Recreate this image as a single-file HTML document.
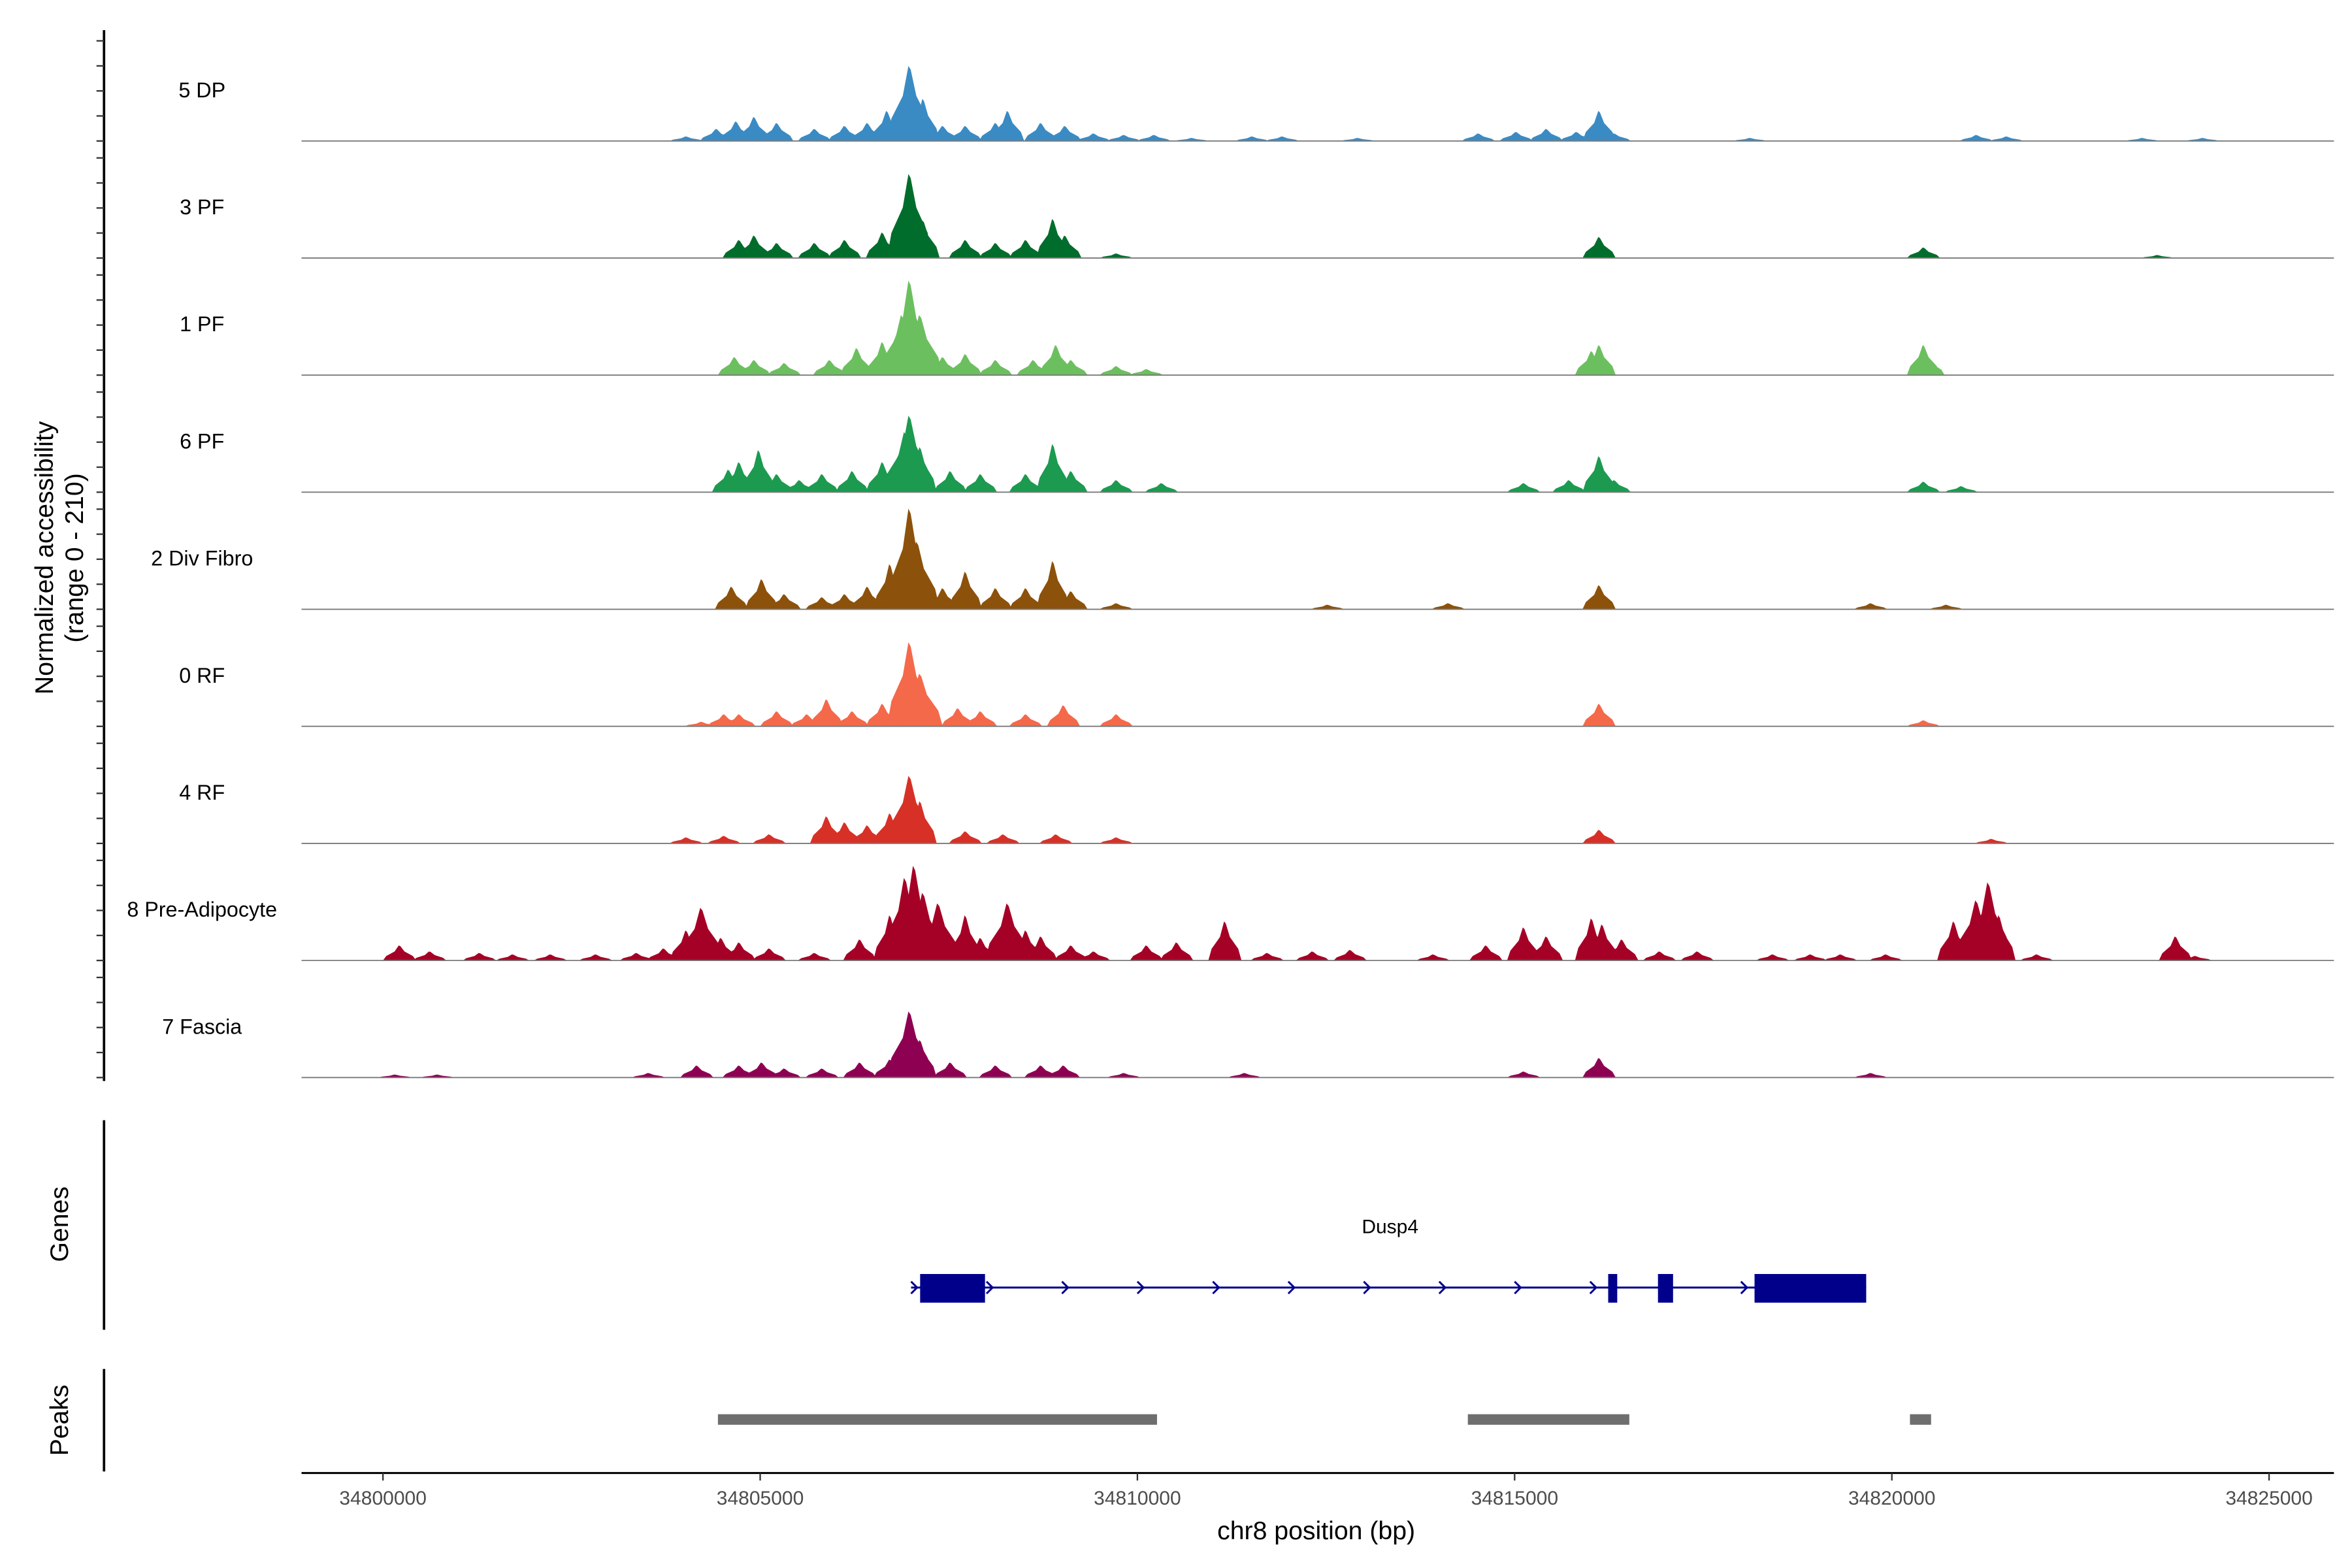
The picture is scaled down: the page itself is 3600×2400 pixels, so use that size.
<!DOCTYPE html>
<html><head><meta charset="utf-8"><style>
html,body{margin:0;padding:0;background:#fff}
svg{display:block}
text{font-family:"Liberation Sans",Arial,sans-serif}
</style></head><body>
<svg id="chart" width="3600" height="2400" viewBox="0 0 1560 1040" xmlns="http://www.w3.org/2000/svg">
<g id="tracks"></g>
<g>
<line x1="69" y1="20" x2="69" y2="717" stroke="#000" stroke-width="1.6"/>
<g id="yticks"></g>
<text transform="translate(35,370) rotate(-90)" text-anchor="middle" font-size="17">Normalized accessibility</text>
<text transform="translate(55,370) rotate(-90)" text-anchor="middle" font-size="17">(range 0 - 210)</text>
</g>
<g>
<line x1="69" y1="743" x2="69" y2="882" stroke="#000" stroke-width="1.6"/>
<text transform="translate(45,812) rotate(-90)" text-anchor="middle" font-size="17">Genes</text>
<text x="922" y="818" text-anchor="middle" font-size="13">Dusp4</text>
<g id="gene"></g>
</g>
<g>
<line x1="69" y1="908" x2="69" y2="976" stroke="#000" stroke-width="1.6"/>
<text transform="translate(45,942) rotate(-90)" text-anchor="middle" font-size="17">Peaks</text>
<g id="peaks"></g>
</g>
<g>
<line x1="200" y1="977" x2="1548" y2="977" stroke="#000" stroke-width="1.3"/>
<g id="xticks"></g>
<text x="873" y="1021" text-anchor="middle" font-size="17">chr8 position (bp)</text>
</g>
</svg>
<script>
const NS="http://www.w3.org/2000/svg";
const trackNames=["5 DP","3 PF","1 PF","6 PF","2 Div Fibro","0 RF","4 RF","8 Pre-Adipocyte","7 Fascia"];
const trackColors=["#3a8bc4","#006d2c","#6cbf5f","#1c9a50","#8c510a","#f4694a","#d73027","#a50026","#8e0152"];
// peak positions: kb offset from 34800000 ; heights: normalized accessibility
const pos0=[4.02,4.42,4.68,4.92,5.22,5.72,6.12,6.42,6.68,6.98,7.16,7.42,7.72,8.12,8.28,8.72,9.04,9.42,9.82,10.22,10.72,11.52,11.92,12.92,14.52,15.02,15.42,15.82,16.12,16.32,18.12,21.12,21.52,23.32,24.12];
const val0=[9,24,39,48,36,24,30,36,60,150,84,30,30,36,60,36,30,15,12,12,6,9,9,6,15,18,24,18,60,15,6,12,9,6,6];
const pos1=[4.72,4.92,5.22,5.72,6.12,6.62,6.98,7.16,7.72,8.12,8.52,8.88,9.04,9.72,16.12,20.42,23.52];
const val1=[36,45,30,30,36,51,168,75,36,30,36,78,45,9,42,21,6];
const pos2=[4.66,4.92,5.32,5.92,6.28,6.62,6.88,6.98,7.12,7.42,7.72,8.12,8.62,8.92,9.12,9.72,10.12,16.02,16.12,20.42,20.48];
const val2=[36,30,24,30,54,66,120,189,120,36,42,30,30,60,30,18,12,48,60,60,36];
const pos3=[4.58,4.72,4.98,5.22,5.52,5.82,6.22,6.62,6.92,6.98,7.12,7.52,7.92,8.52,8.88,9.12,9.72,10.32,15.12,15.72,16.12,16.32,20.42,20.92];
const val3=[45,60,84,36,24,36,42,60,120,153,90,42,36,36,96,42,24,18,18,24,72,24,21,12];
const pos4=[4.62,5.02,5.32,5.82,6.12,6.42,6.72,6.98,7.08,7.42,7.72,8.12,8.52,8.88,9.12,9.72,16.12,12.52,14.12,19.72,20.72];
const val4=[45,60,30,24,30,45,90,201,135,42,75,42,42,96,36,12,48,9,12,12,9];
const pos5=[4.22,4.52,4.72,5.22,5.62,5.88,6.22,6.62,6.98,7.12,7.62,7.92,8.52,9.02,9.72,16.12,20.42];
const val5=[9,24,24,30,24,54,30,45,168,105,36,30,24,42,24,45,12];
const pos6=[4.02,4.52,5.12,5.88,6.12,6.42,6.72,6.98,7.12,7.72,8.22,8.92,9.72,16.12,21.32];
const val6=[12,15,18,54,42,36,60,135,84,24,18,18,12,27,9];
const pos7=[0.22,0.62,1.28,1.72,2.22,2.82,3.36,3.72,4.02,4.22,4.48,4.72,5.12,5.72,6.32,6.72,6.92,7.04,7.16,7.36,7.72,7.92,8.28,8.52,8.72,9.12,9.42,10.12,10.52,11.16,11.72,12.32,12.82,13.92,14.62,15.12,15.42,16.02,16.16,16.42,16.92,17.42,18.42,18.92,19.32,19.92,20.82,21.12,21.28,21.42,21.92,23.76,24.02];
const val7=[30,18,15,12,12,12,15,24,60,105,45,36,24,15,42,90,165,189,135,114,90,45,114,60,48,30,18,30,36,78,15,18,21,12,30,66,48,84,72,42,18,18,12,12,12,12,78,120,156,90,12,48,9];
const pos8=[0.16,0.72,3.52,4.16,4.72,5.02,5.32,5.82,6.32,6.72,6.98,7.12,7.52,8.12,8.72,9.02,9.82,11.42,15.12,16.12,19.72];
const val8=[6,6,9,24,24,30,18,18,30,36,132,75,30,24,24,24,9,9,12,39,9];
const trackPos=[pos0,pos1,pos2,pos3,pos4,pos5,pos6,pos7,pos8];
const trackVal=[val0,val1,val2,val3,val4,val5,val6,val7,val8];
const xTicks=[34800000,34805000,34810000,34815000,34820000,34825000];
const geneExonStart=[34807120,34816240,34816900,34818180];
const geneExonEnd=[34807980,34816360,34817100,34819660];
const arrowStart=34807060;
const peakStart=[34804440,34814380,34820240];
const peakEnd=[34810260,34816520,34820520];

const START=34800000;
function xs(bp){return 254+(bp-34800000)*(1251/25000);}
const trackTop0=93.5, trackStep=77.65, unitPx=16.6/50;
function ys(i,v){return trackTop0+trackStep*i - v*unitPx;}
function mk(tag,attrs,parent){const e=document.createElementNS(NS,tag);for(const k in attrs)e.setAttribute(k,attrs[k]);parent.appendChild(e);return e;}

const tracks=document.getElementById('tracks');
for(let i=0;i<trackNames.length;i++){
  const g=mk('g',{},tracks);
  
  
  const base=ys(i,0);
  for(let j=0;j<trackPos[i].length;j++){
    const bp=START+trackPos[i][j]*1000;
    const v=trackVal[i][j];
    const hw=(v>100?300:220);
    const pts=[[xs(bp-hw),base],[xs(bp-hw*0.8),ys(i,v*0.3)],[xs(bp-hw*0.3),ys(i,v*0.6)],[xs(bp-hw*0.05),ys(i,v)],[xs(bp+hw*0.05),ys(i,v*0.95)],[xs(bp+hw*0.3),ys(i,v*0.6)],[xs(bp+hw*0.8),ys(i,v*0.3)],[xs(bp+hw),base]];
    const p=mk('polygon',{points:pts.map(q=>q[0].toFixed(2)+','+q[1].toFixed(2)).join(' '),fill:trackColors[i]},g);
    
    
  }
  const bl=mk('line',{x1:200,x2:1548,y1:base,y2:base,stroke:'#7a7a7a','stroke-width':0.8},g);
  
  
  const t=mk('text',{x:134,y:base-29,'text-anchor':'middle','font-size':14},g);
  t.textContent=trackNames[i];
  
  
  for(const v of [0,50,100,150,200]){
    const tk=mk('line',{x1:64,x2:69,y1:ys(i,v),y2:ys(i,v),stroke:'#333','stroke-width':1},document.getElementById('yticks'));
    
    
  }
}
const xt=document.getElementById('xticks');
for(const v of xTicks){
  const l=mk('line',{x1:xs(v),x2:xs(v),y1:977,y2:982,stroke:'#333','stroke-width':1},xt);
  
  
  const t=mk('text',{x:xs(v),y:998,'text-anchor':'middle','font-size':13,fill:'#4d4d4d'},xt);
  t.textContent=v;
  
  
}
const gene=document.getElementById('gene');
const gl=mk('line',{x1:xs(arrowStart)-3,x2:xs(geneExonEnd[3]),y1:854,y2:854,stroke:'#00008b','stroke-width':1.3},gene);


for(let a=arrowStart;a<geneExonStart[3];a+=1000){
  const x=xs(a);
  const ar=mk('polyline',{points:`${x-3},850 ${x+1},854 ${x-3},858`,fill:'none',stroke:'#00008b','stroke-width':1.3},gene);
  
  
}
for(let k=0;k<geneExonStart.length;k++){
  const r=mk('rect',{x:xs(geneExonStart[k]),y:845,width:xs(geneExonEnd[k])-xs(geneExonStart[k]),height:19,fill:'#00008b'},gene);
  
  
}
const pk=document.getElementById('peaks');
for(let k=0;k<peakStart.length;k++){
  const r=mk('rect',{x:xs(peakStart[k]),y:938,width:xs(peakEnd[k])-xs(peakStart[k]),height:7,fill:'#6e6e6e'},pk);
  
  
}
</script>
</body></html>
